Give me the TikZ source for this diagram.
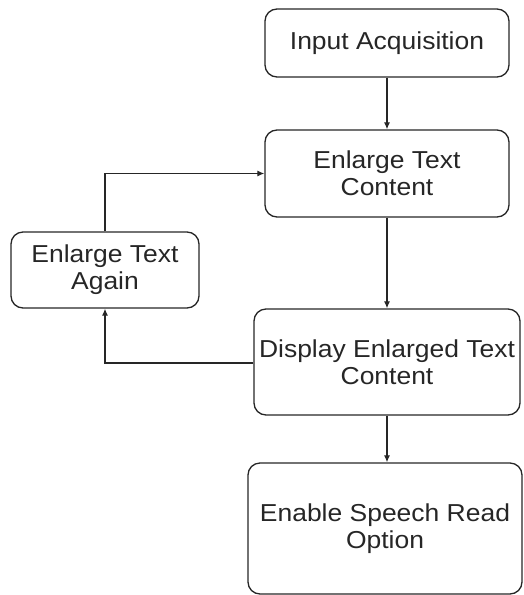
\documentclass[tikz,border=0pt]{standalone}
\usepackage{fontspec}
\setmainfont{Liberation Sans}[FakeStretch=1.08]
\usetikzlibrary{arrows.meta}
\begin{document}
\begin{tikzpicture}[x=1pt,y=-1pt,
  box/.style={draw=black!85, line width=1.3pt, rounded corners=12pt, align=center,
    inner sep=0pt, font=\fontsize{24.5}{27}\selectfont, text=black!85},
  conn/.style={draw=black!85, line width=1.2pt, -{Latex[length=7pt,width=6pt]}}]
\useasboundingbox (0,0) rectangle (524,595);
\node[box, minimum width=244pt, minimum height=68pt] (ia) at (387,43) {Input Acquisition};
\node[box, minimum width=244pt, minimum height=87pt] (etc) at (387,173.5) {Enlarge Text\\Content};
\node[box, minimum width=188pt, minimum height=76pt] (eta) at (105,270) {Enlarge Text\\Again};
\node[box, minimum width=266pt, minimum height=106pt] (detc) at (387,362) {Display Enlarged Text\\Content};
\node[box, minimum width=274pt, minimum height=131pt] (esr) at (385,528.5) {Enable Speech Read\\Option};
\draw[conn] (ia.south) -- (etc.north);
\draw[conn] (etc.south) -- (detc.north);
\draw[conn] (detc.west |- 0,363) -| (eta.south);
\draw[conn] (eta.north) |- (etc.west);
\draw[conn] (detc.south) -- (esr.north -| detc.south);
\end{tikzpicture}
\end{document}
